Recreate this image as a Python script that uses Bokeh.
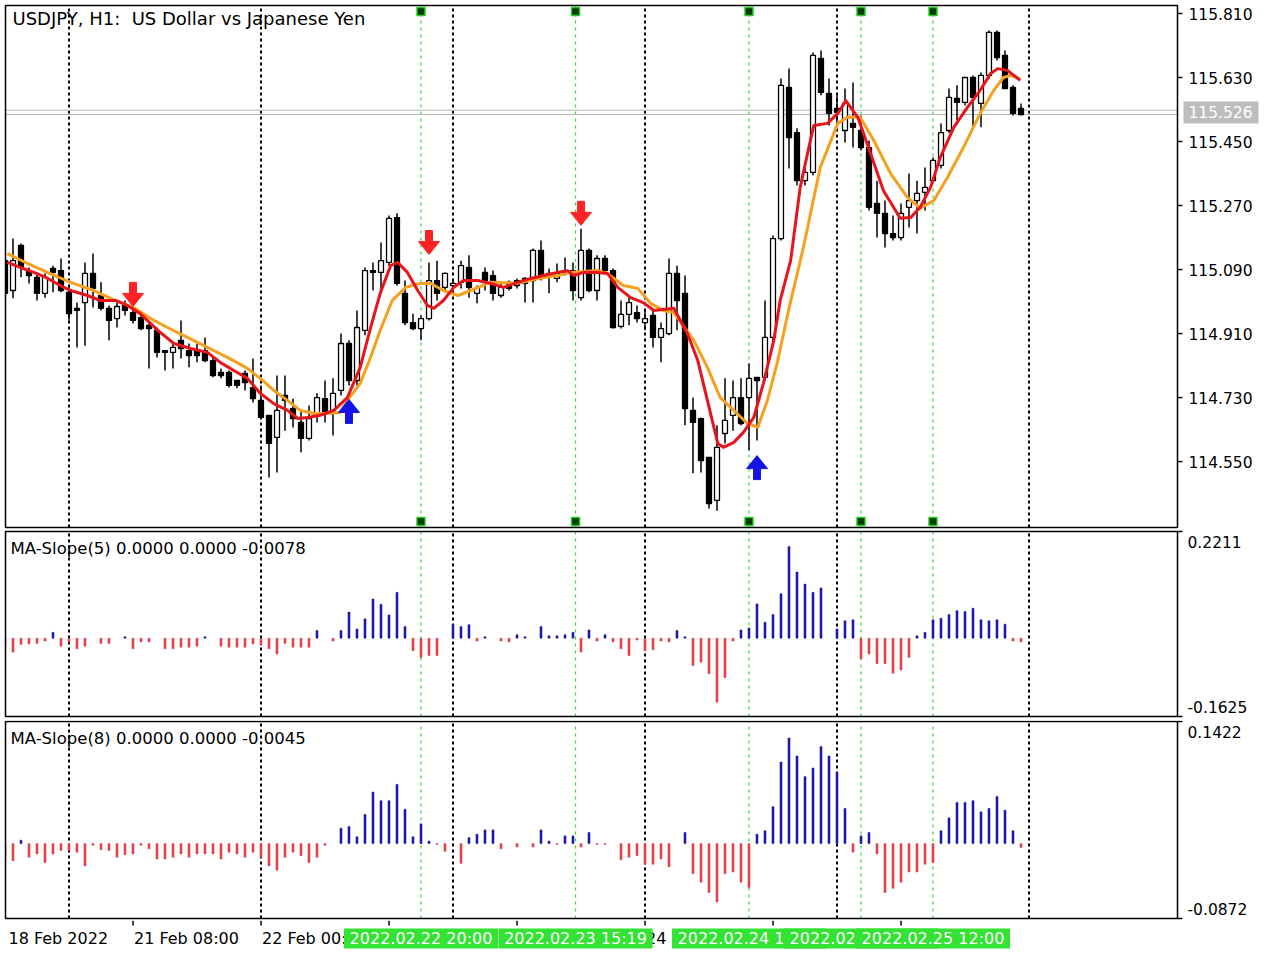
import datetime as dt
from bokeh.plotting import figure
from bokeh.layouts import column
from bokeh.models import Range1d
from bokeh.core.properties import value
from bokeh.embed import file_html
from bokeh.resources import INLINE

FONT = "DejaVu Sans"

# ---------------- data ----------------
chart_title = "USDJPY, H1:\u00a0 US Dollar vs Japanese Yen"
first_bar_time = "2022.02.18 16:00"

open_ = [115.115, 115.031, 115.158, 115.085, 115.068, 115.023, 115.093, 115.087, 115.026, 114.981,
         114.997, 115.079, 115.017, 114.981, 114.952, 114.989, 114.969, 114.955, 114.933, 114.919,
         114.862, 114.857, 114.891, 114.862, 114.862, 114.862, 114.834, 114.801, 114.801, 114.778,
         114.798, 114.758, 114.722, 114.680, 114.618, 114.736, 114.699, 114.660, 114.615, 114.685,
         114.727, 114.694, 114.750, 114.882, 114.778, 114.919, 115.087, 115.082, 115.110, 115.236,
         115.023, 114.941, 114.924, 114.952, 115.059, 115.040, 115.045, 115.054, 115.096, 115.023,
         115.082, 115.073, 115.017, 115.054, 115.059, 115.065, 115.059, 115.144, 115.079, 115.065,
         115.087, 115.087, 115.011, 115.144, 115.031, 115.121, 115.087, 114.930, 114.964, 114.969,
         114.941, 114.961, 114.899, 114.910, 115.079, 115.023, 114.694, 114.671, 114.562, 114.441,
         114.629, 114.680, 114.730, 114.730, 114.787, 114.787, 114.899, 115.177, 115.602, 115.475,
         115.340, 115.363, 115.684, 115.585, 115.543, 115.481, 115.501, 115.481, 115.433, 115.276,
         115.248, 115.191, 115.180, 115.265, 115.284, 115.307, 115.340, 115.383, 115.481, 115.571,
         115.560, 115.630, 115.557, 115.636, 115.757, 115.692, 115.602, 115.543]
high = [115.130, 115.177, 115.163, 115.096, 115.082, 115.079, 115.101, 115.121, 115.040, 114.997,
        115.110, 115.135, 115.054, 114.989, 114.997, 115.003, 114.981, 114.961, 114.938, 114.927,
        114.862, 114.882, 114.947, 114.882, 114.882, 114.899, 114.843, 114.812, 114.806, 114.778,
        114.806, 114.840, 114.764, 114.680, 114.792, 114.792, 114.727, 114.694, 114.708, 114.742,
        114.778, 114.784, 114.910, 114.891, 114.975, 115.096, 115.110, 115.166, 115.242, 115.248,
        115.059, 114.966, 114.961, 115.110, 115.115, 115.082, 115.059, 115.115, 115.130, 115.045,
        115.096, 115.087, 115.054, 115.059, 115.065, 115.068, 115.149, 115.172, 115.093, 115.107,
        115.124, 115.110, 115.205, 115.149, 115.130, 115.130, 115.093, 115.003, 115.011, 114.989,
        114.975, 114.975, 114.941, 115.121, 115.101, 115.073, 114.730, 114.674, 114.562, 114.652,
        114.784, 114.778, 114.784, 114.826, 114.787, 115.003, 115.186, 115.627, 115.655, 115.487,
        115.383, 115.700, 115.706, 115.627, 115.580, 115.599, 115.616, 115.523, 115.453, 115.340,
        115.284, 115.242, 115.276, 115.360, 115.340, 115.377, 115.405, 115.501, 115.599, 115.608,
        115.630, 115.636, 115.644, 115.762, 115.762, 115.706, 115.608, 115.557]
low = [115.003, 115.009, 115.068, 115.051, 115.003, 115.011, 115.026, 115.026, 114.947, 114.871,
       114.876, 114.983, 114.975, 114.891, 114.927, 114.961, 114.938, 114.919, 114.812, 114.843,
       114.806, 114.812, 114.840, 114.815, 114.829, 114.829, 114.787, 114.784, 114.758, 114.756,
       114.750, 114.716, 114.671, 114.505, 114.519, 114.637, 114.646, 114.576, 114.609, 114.660,
       114.660, 114.623, 114.736, 114.764, 114.764, 114.905, 115.031, 115.031, 115.101, 115.045,
       114.933, 114.919, 114.891, 114.947, 115.003, 115.031, 115.031, 115.037, 115.011, 114.995,
       115.031, 115.003, 115.011, 115.031, 115.037, 114.997, 114.997, 115.059, 115.023, 115.054,
       115.073, 115.003, 115.003, 115.026, 115.003, 115.082, 114.924, 114.924, 114.933, 114.941,
       114.919, 114.871, 114.829, 114.905, 114.919, 114.652, 114.517, 114.519, 114.418, 114.412,
       114.601, 114.637, 114.652, 114.581, 114.609, 114.778, 114.876, 115.172, 115.374, 115.326,
       115.326, 115.355, 115.580, 115.495, 115.495, 115.447, 115.433, 115.425, 115.256, 115.180,
       115.152, 115.172, 115.172, 115.208, 115.191, 115.256, 115.335, 115.374, 115.475, 115.509,
       115.551, 115.490, 115.490, 115.627, 115.678, 115.599, 115.523, 115.523]
close = [115.023, 115.115, 115.096, 115.073, 115.023, 115.068, 115.082, 115.031, 114.966, 114.975,
         115.079, 115.037, 114.981, 114.947, 114.986, 114.975, 114.947, 114.924, 114.924, 114.857,
         114.857, 114.871, 114.868, 114.848, 114.848, 114.834, 114.792, 114.792, 114.764, 114.764,
         114.772, 114.727, 114.674, 114.601, 114.694, 114.722, 114.671, 114.615, 114.671, 114.730,
         114.685, 114.742, 114.882, 114.778, 114.927, 115.087, 115.082, 115.115, 115.234, 115.051,
         114.941, 114.924, 114.952, 115.059, 115.023, 115.079, 115.051, 115.101, 115.040, 115.037,
         115.059, 115.023, 115.040, 115.037, 115.045, 115.051, 115.144, 115.068, 115.068, 115.079,
         115.082, 115.031, 115.144, 115.031, 115.121, 115.087, 114.927, 114.964, 114.997, 114.952,
         114.952, 114.899, 114.924, 115.079, 115.003, 114.699, 114.660, 114.553, 114.432, 114.590,
         114.666, 114.730, 114.657, 114.784, 114.778, 114.899, 115.177, 115.608, 115.461, 115.340,
         115.363, 115.692, 115.588, 115.529, 115.532, 115.557, 115.490, 115.433, 115.265, 115.248,
         115.191, 115.180, 115.248, 115.284, 115.304, 115.321, 115.397, 115.475, 115.574, 115.560,
         115.630, 115.574, 115.636, 115.757, 115.686, 115.599, 115.529, 115.526]

# moving averages (bar position, price)
ma_fast_bar = [0.3, 1.9, 3.6, 5.1, 6.9, 8.2, 10.3, 11.9, 13.8, 15.3, 16.9, 19.1, 21.1, 23.2, 25.3,
               26.9, 28.6, 30.3, 31.9, 33.6, 35.3, 36.6, 37.8, 39.4, 41.1, 42.8, 44.4, 45.7, 46.9, 48.2,
               49.1, 50.3, 51.6, 52.8, 53.6, 54.8, 56.1, 57.3, 59.1, 60.7, 62.3, 64.1, 65.7, 67.3, 69.1,
               70.3, 71.1, 72.3, 74.1, 75.3, 76.6, 78.2, 79.8, 81.1, 83.6, 85.3, 86.6, 87.8, 89.1, 89.8,
               91.1, 92.3, 93.6, 94.8, 96.1, 96.9, 98.2, 99.4, 100.4, 101.1, 102.8, 104.1, 105.1, 106.6,
               108.2, 109.8, 111.9, 113.2, 114.4, 115.7, 116.9, 118.6, 120.3, 121.9, 123.2, 124.1,
               125.3, 126.9]
ma_fast_val = [115.110, 115.096, 115.082, 115.068, 115.045, 115.031, 115.017, 115.003, 115.003, 114.989,
               114.966, 114.919, 114.882, 114.868, 114.857, 114.829, 114.806, 114.784, 114.742, 114.713,
               114.694, 114.671, 114.674, 114.680, 114.694, 114.730, 114.815, 114.927, 115.023, 115.101,
               115.110, 115.082, 115.031, 114.989, 114.981, 115.003, 115.040, 115.059, 115.059, 115.051,
               115.040, 115.054, 115.065, 115.073, 115.082, 115.087, 115.073, 115.082, 115.082, 115.079,
               115.040, 115.011, 114.997, 114.975, 114.981, 114.910, 114.834, 114.722, 114.601, 114.590,
               114.604, 114.632, 114.674, 114.770, 114.891, 115.003, 115.115, 115.321, 115.425, 115.495,
               115.501, 115.529, 115.565, 115.518, 115.416, 115.312, 115.234, 115.236, 115.265, 115.321,
               115.405, 115.490, 115.546, 115.594, 115.641, 115.655, 115.650, 115.622]
ma_slow_bar = [0.3, 2.8, 5.3, 8.2, 11.1, 13.2, 16.1, 18.2, 20.3, 22.8, 25.3, 27.8, 30.3, 31.9, 33.6,
               35.3, 36.9, 38.6, 40.3, 41.9, 42.8, 44.4, 45.7, 46.9, 48.4, 50.1, 51.9, 53.2, 54.8, 56.6,
               58.2, 60.7, 64.1, 66.6, 69.1, 70.7, 74.1, 75.3, 77.3, 79.1, 80.7, 82.3, 83.6, 86.1, 87.8,
               89.4, 91.1, 92.8, 94.1, 95.3, 96.6, 97.8, 99.8, 101.9, 104.1, 105.3, 106.9, 108.6, 110.7,
               112.8, 114.4, 116.1, 117.8, 119.8, 121.9, 123.6, 124.8, 125.7, 126.9]
ma_slow_val = [115.135, 115.107, 115.082, 115.054, 115.031, 115.009, 114.983, 114.952, 114.927, 114.899,
               114.871, 114.843, 114.812, 114.784, 114.750, 114.722, 114.694, 114.685, 114.685, 114.688,
               114.722, 114.770, 114.843, 114.919, 115.003, 115.040, 115.051, 115.051, 115.031, 115.017,
               115.031, 115.054, 115.051, 115.065, 115.073, 115.082, 115.087, 115.079, 115.045, 115.037,
               114.995, 114.975, 114.969, 114.891, 114.815, 114.730, 114.694, 114.657, 114.646, 114.722,
               114.834, 114.961, 115.152, 115.377, 115.501, 115.518, 115.518, 115.453, 115.360, 115.293,
               115.262, 115.284, 115.349, 115.433, 115.529, 115.594, 115.630, 115.636, 115.627]

# MA slope histograms
slope5 = [-0.015, -0.029, -0.013, -0.012, -0.011, -0.006, 0.012, -0.017, -0.008, -0.022,
          -0.017, 0.0, -0.011, -0.011, 0.0, 0.003, -0.022, -0.008, -0.008, 0.0,
          -0.022, -0.022, -0.019, -0.019, -0.017, 0.003, 0.0, -0.017, -0.019, -0.019,
          -0.019, -0.012, -0.015, -0.022, -0.033, -0.011, -0.019, -0.019, -0.019, 0.016,
          0.0, -0.006, 0.016, 0.054, 0.019, 0.040, 0.081, 0.070, 0.048, 0.095,
          0.024, -0.026, -0.040, -0.036, -0.036, 0.0, 0.028, 0.024, 0.028, -0.006,
          0.003, 0.0, -0.006, -0.008, 0.007, 0.003, 0.0, 0.024, 0.005, 0.005,
          0.007, 0.012, -0.029, 0.017, -0.006, 0.007, -0.008, -0.022, -0.036, -0.004,
          -0.026, -0.024, -0.006, -0.008, 0.016, 0.003, -0.057, -0.050, -0.074, -0.133,
          -0.082, -0.006, 0.017, 0.021, 0.071, 0.033, 0.049, 0.092, 0.190, 0.137,
          0.112, 0.095, 0.104, 0.0, 0.019, 0.036, 0.038, -0.043, -0.033, -0.053,
          -0.053, -0.073, -0.066, -0.040, 0.005, 0.012, 0.038, 0.041, 0.049, 0.057,
          0.055, 0.062, 0.038, 0.036, 0.038, 0.029, -0.006, -0.0078]
slope8 = [-0.015, -0.020, 0.004, -0.016, -0.012, -0.022, -0.012, -0.008, -0.008, -0.010,
          -0.026, -0.002, -0.007, -0.008, -0.016, -0.013, -0.012, -0.002, -0.006, -0.018,
          -0.018, -0.016, -0.012, -0.016, -0.012, -0.012, -0.012, -0.018, -0.010, -0.012,
          -0.016, -0.010, -0.016, -0.026, -0.031, -0.016, -0.010, -0.014, -0.022, -0.016,
          -0.002, 0.0, 0.018, 0.020, 0.008, 0.034, 0.060, 0.050, 0.050, 0.069,
          0.040, 0.008, 0.023, 0.003, -0.001, -0.009, 0.0, -0.023, 0.007, 0.011,
          0.016, 0.016, -0.006, 0.0, -0.004, 0.0, -0.004, 0.016, 0.003, -0.001,
          0.009, 0.009, -0.004, 0.013, -0.001, -0.001, 0.0, -0.019, -0.016, -0.014,
          -0.024, -0.024, -0.018, -0.027, 0.0, 0.013, -0.035, -0.045, -0.057, -0.068,
          -0.035, -0.033, -0.045, -0.051, 0.011, 0.015, 0.043, 0.095, 0.123, 0.102,
          0.078, 0.088, 0.113, 0.102, 0.083, 0.041, -0.010, 0.009, 0.013, -0.012,
          -0.057, -0.052, -0.045, -0.033, -0.033, -0.024, -0.022, 0.015, 0.030, 0.048,
          0.048, 0.050, 0.037, 0.041, 0.055, 0.039, 0.015, -0.0045]
slope5_range = [-0.1625, 0.2211]
slope8_range = [-0.0872, 0.1422]

price_ticks = [114.55, 114.73, 114.91, 115.09, 115.27, 115.45, 115.63, 115.81]
price_range = [114.3646, 115.8325]
bid_price = 115.526
ask_price = 115.538

sell_bars = [16, 53, 72]
sell_prices = [115.020, 115.166, 115.248]
buy_bars = [43, 94]
buy_prices = [114.691, 114.533]

signal_times = ["2022.02.22 20:00", "2022.02.23 15:19", "2022.02.24 13:00",
                "2022.02.25 03:00", "2022.02.25 12:00"]
time_tick_bars = [16, 32, 48, 64, 80, 96, 112]

# ---------------- derived ----------------
n = len(close)
bars = list(range(n))
times = []
t = dt.datetime.strptime(first_bar_time, "%Y.%m.%d %H:%M")
for _ in range(n):
    times.append(t)
    t = t + dt.timedelta(hours=1)
    while t.weekday() >= 5:
        t = t + dt.timedelta(hours=1)
day_starts = [i for i, tt in enumerate(times) if tt.hour == 0]
if t.hour == 0:
    day_starts.append(n)


def bar_of(ts):
    d = dt.datetime.strptime(ts, "%Y.%m.%d %H:%M")
    return times.index(d.replace(minute=0)) + d.minute / 60.0


signal_bars = [bar_of(s) for s in signal_times]

# ---------------- layout constants (screen px) ----------------
W = 1270
PX_PER_BAR = 8.0
BAR0_PX = 4.5
LEFT_PX, RIGHT_PX = 5, 1177
PXX = 1.0 / PX_PER_BAR


def bx(px):
    return (px - BAR0_PX) / PX_PER_BAR


x_range = Range1d(bx(0), bx(W))
CL, CR = bx(LEFT_PX), bx(RIGHT_PX)

SIG_COLOR = "#3ad63a"
AX_FS = "15.5px"


def make_panel(rng, chart_h, m_top, m_bot):
    ppy = (rng[1] - rng[0]) / chart_h
    yr = Range1d(rng[0] - m_bot * ppy, rng[1] + m_top * ppy)
    f = figure(width=W, height=chart_h + m_top + m_bot, x_range=x_range, y_range=yr,
               output_backend="svg", toolbar_location=None, x_axis_location=None,
               y_axis_location=None, min_border=0)
    f.outline_line_color = None
    f.grid.visible = False
    f.background_fill_color = "white"
    f.border_fill_color = "white"
    k = len(day_starts)
    f.segment(x0=day_starts, y0=[rng[0]] * k, x1=day_starts, y1=[rng[1]] * k,
              line_color="black", line_dash="3 3", line_width=2)
    k = len(signal_bars)
    f.segment(x0=signal_bars, y0=[rng[0]] * k, x1=signal_bars, y1=[rng[1]] * k,
              line_color=SIG_COLOR, line_dash="3 4", line_width=1.2)
    return f, ppy, yr


def finish_panel(f, rng, yr):
    # hide anything left of the chart border, then draw the border
    f.quad(left=[x_range.start], right=[CL], bottom=[yr.start], top=[yr.end],
           fill_color="white", line_color=None)
    f.quad(left=[CL], right=[CR], bottom=[rng[0]], top=[rng[1]], fill_color=None,
           line_color="black", line_width=1.5)


def txt(f, x, y, s, size, color="black", align="left"):
    f.text(x=x, y=y, text=s, text_font=value(FONT), text_font_size=value(size),
           text_color=color, text_align=align, text_baseline="middle")


# ---------------- main price panel ----------------
p1, PXY1, yr1 = make_panel(price_range, 522, 5, 2)

p1.segment(x0=[CL, CL], y0=[ask_price, bid_price], x1=[CR, CR], y1=[ask_price, bid_price],
           line_color="#b4b4b4", line_width=1)

body_top = [max(o, c) for o, c in zip(open_, close)]
body_bot = [min(o, c) for o, c in zip(open_, close)]
body_fill = ["white" if c >= o else "black" for o, c in zip(open_, close)]
p1.segment(x0=bars, y0=low, x1=bars, y1=high, line_color="black", line_width=1.5)
p1.vbar(x=bars, top=body_top, bottom=body_bot, width=0.62, fill_color=body_fill,
        line_color="black", line_width=1.3)

p1.line(ma_slow_bar, ma_slow_val, line_color="#f5a01e", line_width=3, line_join="round")
p1.line(ma_fast_bar, ma_fast_val, line_color="#e8141c", line_width=3, line_join="round")

down_shape = [(-3.5, -12), (3.5, -12), (3.5, -1), (10.5, -1), (0, 12), (-10.5, -1), (-3.5, -1)]
up_shape = [(dx, -dy) for dx, dy in down_shape]


def arrow_polys(bs, ps, shape):
    xs, ys = [], []
    for b, pr in zip(bs, ps):
        xs.append([b + dx * PXX for dx, dy in shape])
        ys.append([pr - dy * PXY1 for dx, dy in shape])
    return xs, ys


xs, ys = arrow_polys(sell_bars, sell_prices, down_shape)
p1.patches(xs, ys, fill_color="#ff2222", line_color="#ff2222", line_width=1)
xs, ys = arrow_polys(buy_bars, buy_prices, up_shape)
p1.patches(xs, ys, fill_color="#1414e6", line_color="#1414e6", line_width=1)

k = len(signal_bars)
for yy in (price_range[1] - 6 * PXY1, price_range[0] + 6 * PXY1):
    p1.scatter(signal_bars, [yy] * k, marker="square", size=8,
               fill_color="#073a07", line_color="#22cc22", line_width=1.5)

finish_panel(p1, price_range, yr1)

# right price scale
k = len(price_ticks)
p1.segment(x0=[CR] * k, y0=price_ticks, x1=[CR + 5 * PXX] * k, y1=price_ticks,
           line_color="black", line_width=1.5)
txt(p1, [CR + 11 * PXX] * k, price_ticks, [f"{v:.3f}" for v in price_ticks], AX_FS)
p1.rect(x=[CR + (6 + 37.5) * PXX], y=[bid_price + 2 * PXY1], width=75, height=22,
        width_units="screen", height_units="screen", fill_color="#bdbdbd", line_color=None)
txt(p1, [CR + 11 * PXX], [bid_price + 2 * PXY1], [f"{bid_price:.3f}"], AX_FS, color="white")

txt(p1, [CL + 7 * PXX], [price_range[1] - 13 * PXY1], [chart_title], "18px")


# ---------------- slope panels ----------------
def slope_panel(vals, rng, chart_h, m_top, m_bot, period):
    f, ppy, yr = make_panel(rng, chart_h, m_top, m_bot)
    xb = [i for i, v in enumerate(vals) if v != 0]
    vb = [v for v in vals if v != 0]
    cols = ["#1c1ca8" if v > 0 else "#e5414a" for v in vb]
    f.vbar(x=xb, top=vb, bottom=0, width=0.26, fill_color=cols, line_color=cols, line_width=0.5)
    finish_panel(f, rng, yr)
    f.segment(x0=[CR, CR], y0=rng, x1=[CR + 5 * PXX] * 2, y1=rng, line_color="black",
              line_width=1.5)
    txt(f, [CR + 10 * PXX] * 2, [rng[1] - 10 * ppy, rng[0] + 10 * ppy],
        [f"{rng[1]:.4f}", f"{rng[0]:.4f}"], AX_FS)
    txt(f, [CL + 5 * PXX], [rng[1] - 17 * ppy],
        [f"MA-Slope({period}) 0.0000 0.0000 {vals[-1]:.4f}"], "16.5px")
    return f


p2 = slope_panel(slope5, slope5_range, 185, 2, 4, 5)
p3 = slope_panel(slope8, slope8_range, 197, 1, 2, 8)

# ---------------- time scale ----------------
p4 = figure(width=W, height=36, x_range=x_range, y_range=Range1d(0, 36), output_backend="svg",
            toolbar_location=None, x_axis_location=None, y_axis_location=None, min_border=0)
p4.outline_line_color = None
p4.grid.visible = False
k = len(time_tick_bars)
p4.segment(x0=time_tick_bars, y0=[36] * k, x1=time_tick_bars, y1=[31] * k,
           line_color="black", line_width=1.5)
txt(p4, [CL + 3 * PXX], [18], [times[0].strftime("%d Feb %Y")], "16px")
txt(p4, [b + PXX for b in time_tick_bars], [18] * k,
    [times[b].strftime("%d Feb %H:%M") for b in time_tick_bars], "16px")
for b, s in zip(signal_bars, signal_times):
    p4.rect(x=[b], y=[18], width=154, height=20, width_units="screen", height_units="screen",
            fill_color="#33e233", line_color=None)
    txt(p4, [b], [18], [s], "16px", color="white", align="center")

layout = column(p1, p2, p3, p4)
open("out.html", "w").write(file_html(layout, INLINE))
